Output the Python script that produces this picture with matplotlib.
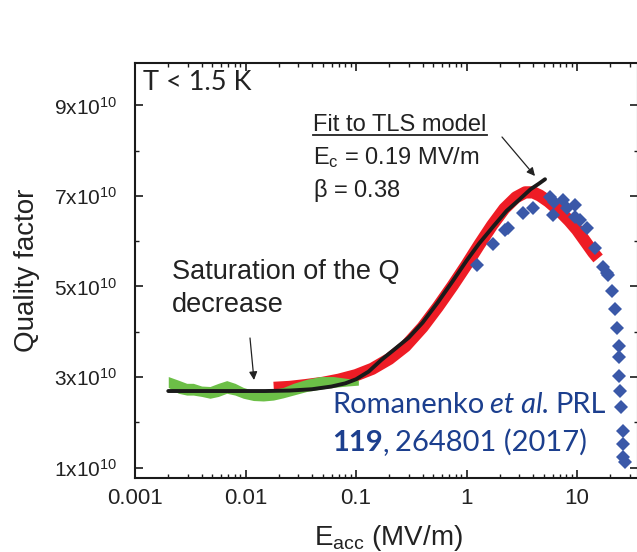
import numpy as np
import matplotlib
matplotlib.use("Agg")
import matplotlib.pyplot as plt
from matplotlib.ticker import FixedLocator, FuncFormatter, LogLocator, NullFormatter

plt.rcParams['font.family'] = ['Liberation Sans', 'DejaVu Sans']
plt.rcParams['mathtext.fontset'] = 'custom'
plt.rcParams['mathtext.rm'] = 'Liberation Sans'
plt.rcParams['mathtext.it'] = 'Liberation Sans:italic'

# ---- data (E_acc in MV/m, Q in units of 1e10) ----
green_x = [0.0020, 0.00247, 0.00294, 0.00337, 0.00401, 0.00477, 0.00568, 0.00676, 0.00804, 0.00955,
           0.0118, 0.0145, 0.0179, 0.0220, 0.0271, 0.0358, 0.0472, 0.0623, 0.0824, 0.105]
green_hi = [3.01, 2.93, 2.86, 2.86, 2.80, 2.79, 2.86, 2.92, 2.86, 2.77,
            2.70, 2.70, 2.73, 2.77, 2.86, 2.95, 3.01, 3.01, 2.97, 2.93]
green_lo = [2.77, 2.64, 2.60, 2.60, 2.57, 2.53, 2.57, 2.64, 2.60, 2.53,
            2.48, 2.47, 2.49, 2.54, 2.60, 2.68, 2.73, 2.77, 2.80, 2.82]

red_x = [0.018, 0.025, 0.035, 0.05, 0.07, 0.1, 0.14, 0.2, 0.28, 0.4, 0.55, 0.75, 1.0, 1.3, 1.7,
         2.2, 2.8, 3.4, 4.0, 4.6, 5.5, 7.0, 8.5, 10.0, 12.0, 14.0, 15.5]
red_q = [2.76, 2.78, 2.82, 2.87, 2.94, 3.04, 3.18, 3.40, 3.68, 4.10, 4.55, 5.02, 5.48, 5.92, 6.35,
         6.72, 6.97, 7.08, 7.08, 7.01, 6.88, 6.66, 6.45, 6.25, 5.98, 5.75, 5.62]

fit_x = [0.002, 0.004, 0.008, 0.015, 0.025, 0.04, 0.06, 0.08, 0.1, 0.13, 0.17, 0.22, 0.3, 0.4,
         0.55, 0.75, 1.0, 1.3, 1.75, 2.3, 3.0, 3.8, 4.5, 5.13]
fit_q = [2.69, 2.69, 2.69, 2.69, 2.70, 2.73, 2.79, 2.86, 2.95, 3.12, 3.38, 3.60, 3.87, 4.20,
         4.65, 5.12, 5.57, 5.95, 6.33, 6.67, 6.92, 7.15, 7.27, 7.37]

blue_x = [1.24, 1.75, 2.23, 2.37, 3.27, 4.03, 5.7, 6.2, 6.1, 7.5, 8.05, 9.6, 9.6, 10.6, 12.2, 14.6, 17.3, 18.5,
          19.2, 20.6, 22.1, 23.2, 24.0, 24.0, 24.0, 24.5, 25.0, 25.9, 26.2, 26.2, 27.2]
blue_q = [5.48, 5.93, 6.25, 6.29, 6.63, 6.73, 6.98, 6.87, 6.58, 6.91, 6.73, 6.80, 6.54, 6.47, 6.29, 5.84, 5.44, 5.29,
          5.25, 4.89, 4.50, 4.08, 3.69, 3.45, 3.02, 2.68, 2.34, 1.81, 1.53, 1.24, 1.13]

ytick_vals = [1, 3, 5, 7, 9]
yminor_vals = [2, 4, 6, 8]
xtick_vals = [0.001, 0.01, 0.1, 1, 10]
xtick_labels = ['0.001', '0.01', '0.1', '1', '10']

W, H = 637, 552
fig = plt.figure(figsize=(W / 100, H / 100), dpi=100)
ax = fig.add_axes([135 / W, 1 - 478 / H, 503 / W, (478 - 62.5) / H])

scale = 1e10
ax.plot(red_x, np.array(red_q) * scale, color='#ee1c25', lw=8.8, solid_capstyle='butt',
        solid_joinstyle='round', zorder=2)
ax.fill_between(green_x, np.array(green_lo) * scale, np.array(green_hi) * scale,
                color='#6cbf47', lw=0, zorder=3)
ax.plot(blue_x, np.array(blue_q) * scale, 'D', color='#3a58a8', ms=7.5, mew=0, zorder=4)
ax.plot(fit_x, np.array(fit_q) * scale, color='#1a1a1a', lw=2.8, solid_capstyle='round',
        solid_joinstyle='round', zorder=5)

ax.set_xscale('log')
ax.set_xlim(0.001, 35.6)
ax.set_ylim(0.768e10, 9.95e10)

ax.xaxis.set_major_locator(FixedLocator(xtick_vals))
ax.xaxis.set_major_formatter(FuncFormatter(
    lambda v, p: xtick_labels[int(round(np.log10(v))) + 3]))
ax.xaxis.set_minor_locator(LogLocator(base=10, subs=np.arange(2, 10), numticks=20))
ax.xaxis.set_minor_formatter(NullFormatter())

ax.yaxis.set_major_locator(FixedLocator([v * scale for v in ytick_vals]))
ax.yaxis.set_minor_locator(FixedLocator([v * scale for v in yminor_vals]))
ax.yaxis.set_major_formatter(FuncFormatter(lambda v, p: r'$\mathregular{%dx10^{10}}$' % round(v / scale)))

for s in ax.spines.values():
    s.set_linewidth(1.5)
    s.set_color('#1a1a1a')
ax.tick_params(which='both', direction='in', top=True, right=True, color='#1a1a1a')
ax.tick_params(which='major', length=6, width=1.2)
ax.tick_params(which='minor', length=3.2, width=1.0)
ax.tick_params(axis='x', which='major', labelsize=16, pad=7, labelcolor='#222222')
ax.tick_params(axis='y', which='major', labelsize=15, pad=13, labelcolor='#222222')

# axis labels
fig.text(27 / W, 1 - 270 / H, 'Quality factor', rotation=90, ha='center', va='center', fontsize=20, color='#222222')
fig.text(388 / W, 1 - 538 / H, r'$\mathregular{E_{acc}}$ (MV/m)', ha='center', va='center', fontsize=20, color='#222222')

# annotations
fig.text(143 / W, 1 - 82 / H, 'T < 1.5 K', ha='left', va='center', fontsize=19.5,
         family=['Lato', 'DejaVu Sans'], color='#222222')
fig.text(172 / W, 1 - 272 / H, 'Saturation of the Q', ha='left', va='center', fontsize=19.5, color='#222222')
fig.text(172 / W, 1 - 305 / H, 'decrease', ha='left', va='center', fontsize=19.5, color='#222222')

fig.text(313 / W, 1 - 125 / H, 'Fit to TLS model', ha='left', va='center', fontsize=17, color='#222222')
fig.add_artist(plt.Line2D([313 / W, 487 / W], [1 - 135 / H, 1 - 135 / H], color='#222222', lw=1.3))
fig.text(313 / W, 1 - 158 / H, r'$\mathregular{E_c}$ = 0.19 MV/m', ha='left', va='center', fontsize=17, color='#222222')
fig.text(313 / W, 1 - 190 / H, r'$\mathregular{\beta}$ = 0.38', ha='left', va='center', fontsize=17, color='#222222')

ax.annotate('', xy=(535 / W, 1 - 176 / H), xycoords='figure fraction',
            xytext=(502 / W, 1 - 137 / H), textcoords='figure fraction',
            arrowprops=dict(arrowstyle='-|>', color='#222222', lw=0.9, mutation_scale=12, shrinkA=0, shrinkB=0))
ax.annotate('', xy=(254 / W, 1 - 380 / H), xycoords='figure fraction',
            xytext=(250 / W, 1 - 338 / H), textcoords='figure fraction',
            arrowprops=dict(arrowstyle='-|>', color='#222222', lw=0.9, mutation_scale=12, shrinkA=0, shrinkB=0))

# citation, drawn as consecutive segments
blue = '#1c3f8e'
renderer = fig.canvas.get_renderer()
space = 6
cite_size = 21

x = 332
for txt, kw in [('Romanenko', {}), ('et al.', {'style': 'italic'}), ('PRL', {})]:
    t = fig.text(x / W, 1 - 413 / H, txt, ha='left', va='baseline', fontsize=cite_size,
                 family=['Lato', 'DejaVu Sans'], color=blue, **kw)
    x = t.get_window_extent(renderer).x1 + space
x = 332
for txt, kw, gap in [('119', {'weight': 'bold'}, 0), (',', {}, space), ('264801 (2017)', {}, 0)]:
    t = fig.text(x / W, 1 - 451 / H, txt, ha='left', va='baseline', fontsize=cite_size,
                 family=['Lato', 'DejaVu Sans'], color=blue, **kw)
    x = t.get_window_extent(renderer).x1 + gap

fig.savefig('out.png', dpi=100)
